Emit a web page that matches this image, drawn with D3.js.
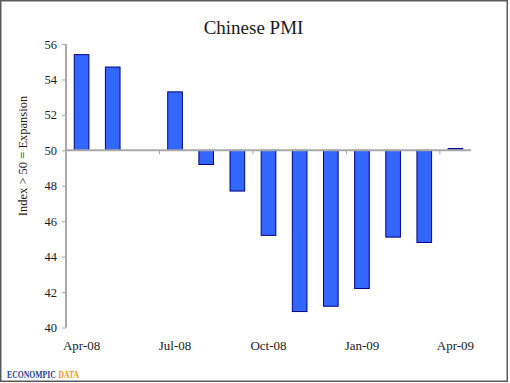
<!DOCTYPE html>
<html>
<head>
<meta charset="utf-8">
<script src="https://cdn.jsdelivr.net/npm/d3@7"></script>
<style>
  html, body { margin: 0; padding: 0; background: #fff; }
  svg { display: block; }
  text { font-family: "Liberation Serif", "DejaVu Serif", serif; fill: #1a1a1a; }
</style>
</head>
<body>
<svg id="chart" width="510" height="383"></svg>
<script>
const categories = ["Apr-08","May-08","Jun-08","Jul-08","Aug-08","Sep-08","Oct-08","Nov-08","Dec-08","Jan-09","Feb-09","Mar-09","Apr-09"];
const pmiValues = [55.4, 54.7, null, 53.3, 49.2, 47.7, 45.2, 40.9, 41.2, 42.2, 45.1, 44.8, 50.1];
const yTicks = [40, 42, 44, 46, 48, 50, 52, 54, 56];
const xTickLabels = ["Apr-08","Jul-08","Oct-08","Jan-09","Apr-09"];
const baseline = 50;

const svg = d3.select("#chart");

// frame
svg.append("rect")
  .attr("x", 0.75).attr("y", 0.75)
  .attr("width", 506.5).attr("height", 380.5)
  .attr("fill", "#fff")
  .attr("stroke", "#5a5a5a").attr("stroke-width", 1.5);

const x = d3.scaleBand()
  .domain(categories)
  .range([66, 471])
  .paddingInner(0.53)
  .paddingOuter(0.265);

const y = d3.scaleLinear().domain([40, 56]).range([327.5, 44]);

const axisColor = "#a8a8a8";

// title
svg.append("text")
  .attr("x", 253.5).attr("y", 34)
  .attr("text-anchor", "middle")
  .style("font-size", "19px")
  .text("Chinese PMI");

// y axis label
svg.append("text")
  .attr("transform", "translate(27,156) rotate(-90)")
  .attr("text-anchor", "middle")
  .style("font-size", "12.5px")
  .text("Index > 50 = Expansion");

// bars
svg.append("g").selectAll("rect")
  .data(categories.map((c, i) => ({c, v: pmiValues[i]})).filter(d => d.v !== null))
  .join("rect")
  .attr("x", d => x(d.c))
  .attr("width", x.bandwidth())
  .attr("y", d => y(Math.max(d.v, baseline)))
  .attr("height", d => Math.abs(y(d.v) - y(baseline)))
  .attr("fill", "#3366ff")
  .attr("stroke", "#000080")
  .attr("stroke-width", 1);

// y axis
const yAxis = svg.append("g")
  .attr("transform", "translate(66,0)")
  .call(d3.axisLeft(y).tickValues(yTicks).tickSize(4).tickPadding(5).tickFormat(d3.format("d")));
yAxis.select(".domain").attr("stroke", axisColor).attr("stroke-width", 2).attr("d", `M0,${y(40)}V${y(56)}`);
yAxis.selectAll(".tick line").attr("stroke", axisColor).attr("stroke-width", 1);
yAxis.selectAll(".tick text")
  .style("font-family", "Liberation Serif, serif")
  .style("font-size", "12.5px")
  .attr("fill", "#1a1a1a");

// horizontal category axis at baseline 50
const step = x.step();
const xAxisG = svg.append("g").attr("transform", `translate(0,${y(baseline)})`);
xAxisG.append("line")
  .attr("x1", 66).attr("x2", 471)
  .attr("y1", 0).attr("y2", 0)
  .attr("stroke", axisColor).attr("stroke-width", 2);
const boundaries = d3.range(0, categories.length + 1, 3).map(i => 66 + i * step);
xAxisG.selectAll("line.tk").data(boundaries).join("line")
  .attr("class", "tk")
  .attr("x1", d => d).attr("x2", d => d)
  .attr("y1", 0).attr("y2", 4)
  .attr("stroke", axisColor).attr("stroke-width", 1);

// x tick labels at bottom
svg.append("g").selectAll("text")
  .data(xTickLabels)
  .join("text")
  .attr("x", d => x(d) + x.bandwidth() / 2)
  .attr("y", 350)
  .attr("text-anchor", "middle")
  .style("font-size", "13px")
  .text(d => d);

// logo
svg.append("text")
  .attr("transform", "translate(7,378) scale(0.7,1)")
  .style("font-size", "11px")
  .style("font-weight", "bold")
  .style("fill", "#1c3f8a")
  .text("ECONOMPIC");
svg.append("text")
  .attr("transform", "translate(58.5,378) scale(0.7,1)")
  .style("font-size", "11px")
  .style("font-weight", "bold")
  .style("fill", "#e0a020")
  .text("DATA");
</script>
</body>
</html>
